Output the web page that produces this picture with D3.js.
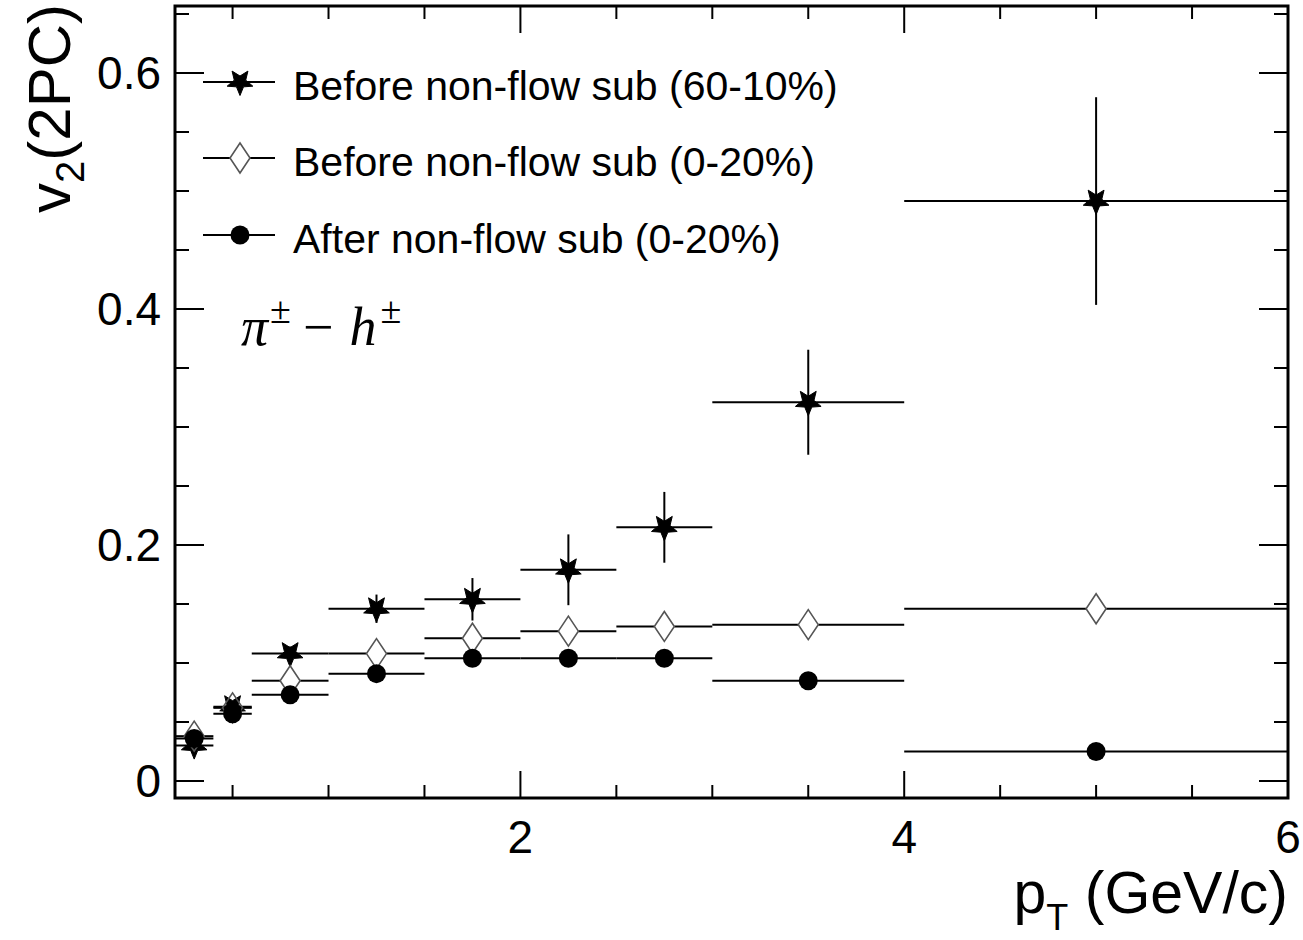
<!DOCTYPE html>
<html>
<head>
<meta charset="utf-8">
<script src="https://cdn.jsdelivr.net/npm/d3@7"></script>
<style>
  html, body { margin: 0; padding: 0; background: #fff; }
  svg { display: block; }
  text { font-family: "Liberation Sans", Arial, Helvetica, sans-serif; fill: #000; }
</style>
</head>
<body>
<svg id="chart" width="1303" height="940"></svg>
<script>
// pT bins (GeV/c)
const pTCenter = [0.3, 0.5, 0.8, 1.25, 1.75, 2.25, 2.75, 3.5, 5.0];
const pTLow    = [0.2, 0.4, 0.6, 1.0, 1.5, 2.0, 2.5, 3.0, 4.0];
const pTHigh   = [0.4, 0.6, 1.0, 1.5, 2.0, 2.5, 3.0, 4.0, 6.0];

// v2(2PC), before non-flow subtraction, 60-10%
const v2Before6010    = [0.030, 0.063, 0.108, 0.146, 0.154, 0.179, 0.215, 0.321, 0.4915];
const v2Before6010Err = [0.004, 0.005, 0.006, 0.012, 0.018, 0.030, 0.030, 0.0445, 0.088];
// v2(2PC), before non-flow subtraction, 0-20%
const v2Before020 = [0.038, 0.062, 0.085, 0.108, 0.121, 0.127, 0.131, 0.1325, 0.146];
// v2(2PC), after non-flow subtraction, 0-20%
const v2After020  = [0.036, 0.057, 0.073, 0.091, 0.104, 0.104, 0.104, 0.085, 0.025];

// axis ticks
const yMajorTicks = [0, 0.2, 0.4, 0.6];
const yMinorTicks = [0.05, 0.1, 0.15, 0.25, 0.3, 0.35, 0.45, 0.5, 0.55, 0.65];
const xMajorTicks = [2, 4, 6];
const xMinorTicks = [0.5, 1, 1.5, 2.5, 3, 3.5, 4.5, 5, 5.5];

const legendLabels = [
  "Before non-flow sub (60-10%)",
  "Before non-flow sub (0-20%)",
  "After non-flow sub (0-20%)"
];

const svg = d3.select("#chart");
const L = 175, R = 1288, T = 6, B = 798;

const x = d3.scaleLinear().domain([0.2, 6]).range([L, R]);
const y = d3.scaleLinear().domain([-0.0144, 0.6568]).range([B, T]);

// ---- ticks (mirrored on all four sides) ----
const tk = svg.append("g").attr("stroke", "#000").attr("stroke-width", 2);
const majLenY = 29, minLenY = 14, majLenX = 27, minLenX = 13;
yMajorTicks.forEach(v => {
  tk.append("line").attr("x1", L).attr("x2", L + majLenY).attr("y1", y(v)).attr("y2", y(v));
  tk.append("line").attr("x1", R).attr("x2", R - majLenY).attr("y1", y(v)).attr("y2", y(v));
});
yMinorTicks.forEach(v => {
  tk.append("line").attr("x1", L).attr("x2", L + minLenY).attr("y1", y(v)).attr("y2", y(v));
  tk.append("line").attr("x1", R).attr("x2", R - minLenY).attr("y1", y(v)).attr("y2", y(v));
});
xMajorTicks.forEach(v => {
  tk.append("line").attr("x1", x(v)).attr("x2", x(v)).attr("y1", B).attr("y2", B - majLenX);
  tk.append("line").attr("x1", x(v)).attr("x2", x(v)).attr("y1", T).attr("y2", T + majLenX);
});
xMinorTicks.forEach(v => {
  tk.append("line").attr("x1", x(v)).attr("x2", x(v)).attr("y1", B).attr("y2", B - minLenX);
  tk.append("line").attr("x1", x(v)).attr("x2", x(v)).attr("y1", T).attr("y2", T + minLenX);
});

// ---- tick labels ----
svg.append("g").selectAll("text").data(yMajorTicks).join("text")
  .attr("x", 161).attr("y", d => y(d) + 16)
  .attr("text-anchor", "end").attr("font-size", 46)
  .text(d => d === 0 ? "0" : d3.format(".1f")(d));

svg.append("g").selectAll("text").data(xMajorTicks).join("text")
  .attr("x", d => x(d)).attr("y", 853)
  .attr("text-anchor", "middle").attr("font-size", 46)
  .text(d => d);

// ---- axis titles ----
const xt = svg.append("text").attr("x", R).attr("y", 913)
  .attr("text-anchor", "end").attr("font-size", 59);
xt.append("tspan").text("p");
xt.append("tspan").attr("font-size", 36).attr("dy", 17).text("T");
xt.append("tspan").attr("dy", -17).text(" (GeV/c)");

const yt = svg.append("text")
  .attr("transform", "translate(70,4) rotate(-90)")
  .attr("text-anchor", "end").attr("font-size", 60);
yt.append("tspan").text("v");
yt.append("tspan").attr("font-size", 40).attr("dy", 14).text("2");
yt.append("tspan").attr("dy", -14).text("(2PC)");

// ---- markers ----
function starPath(R0, r0) {
  // five-pointed star with one point facing down
  const pts = [];
  for (let i = 0; i < 10; i++) {
    const a = Math.PI / 2 + i * Math.PI / 5;
    const rr = i % 2 === 0 ? R0 : r0;
    pts.push([rr * Math.cos(a), rr * Math.sin(a)]);
  }
  return "M" + pts.map(p => p.join(",")).join("L") + "Z";
}
const STAR = starPath(13.5, 6);
const DIAMOND = "M0,-15L10,0L0,15L-10,0Z";
const CIRCLE_R = 9.5;

function drawStar(g, cx, cy) {
  g.append("path").attr("d", STAR).attr("transform", `translate(${cx},${cy})`)
    .attr("fill", "#000").attr("stroke", "#000").attr("stroke-width", 1);
}
function drawDiamond(g, cx, cy) {
  g.append("path").attr("d", DIAMOND).attr("transform", `translate(${cx},${cy})`)
    .attr("fill", "none").attr("stroke", "#555").attr("stroke-width", 1.6);
}
function drawCircle(g, cx, cy) {
  g.append("circle").attr("cx", cx).attr("cy", cy).attr("r", CIRCLE_R).attr("fill", "#000");
}

const plot = svg.append("g");

// 60-10% before subtraction: stars with vertical stat. errors
pTCenter.forEach((c, i) => {
  const cy = y(v2Before6010[i]);
  plot.append("line").attr("x1", x(pTLow[i])).attr("x2", x(pTHigh[i]))
    .attr("y1", cy).attr("y2", cy).attr("stroke", "#000").attr("stroke-width", 2);
  plot.append("line").attr("x1", x(c)).attr("x2", x(c))
    .attr("y1", y(v2Before6010[i] - v2Before6010Err[i]))
    .attr("y2", y(v2Before6010[i] + v2Before6010Err[i]))
    .attr("stroke", "#000").attr("stroke-width", 2);
  drawStar(plot, x(c), cy);
});

// 0-20% before subtraction: open diamonds, bin lines stop at the marker
pTCenter.forEach((c, i) => {
  const cy = y(v2Before020[i]);
  const cx = x(c);
  plot.append("line").attr("x1", x(pTLow[i])).attr("x2", cx - 10)
    .attr("y1", cy).attr("y2", cy).attr("stroke", "#000").attr("stroke-width", 2);
  plot.append("line").attr("x1", cx + 10).attr("x2", x(pTHigh[i]))
    .attr("y1", cy).attr("y2", cy).attr("stroke", "#000").attr("stroke-width", 2);
  drawDiamond(plot, cx, cy);
});

// 0-20% after subtraction: full circles
pTCenter.forEach((c, i) => {
  const cy = y(v2After020[i]);
  plot.append("line").attr("x1", x(pTLow[i])).attr("x2", x(pTHigh[i]))
    .attr("y1", cy).attr("y2", cy).attr("stroke", "#000").attr("stroke-width", 2);
  drawCircle(plot, x(c), cy);
});

// ---- frame ----
svg.append("rect").attr("x", L).attr("y", T).attr("width", R - L).attr("height", B - T)
  .attr("fill", "none").attr("stroke", "#000").attr("stroke-width", 3);

// ---- legend ----
const leg = svg.append("g");
const legY = [82, 158, 235];
const legMarkers = [drawStar, drawDiamond, drawCircle];
legY.forEach((ly, i) => {
  if (i === 1) {
    leg.append("line").attr("x1", 203).attr("x2", 230).attr("y1", ly).attr("y2", ly)
      .attr("stroke", "#000").attr("stroke-width", 2);
    leg.append("line").attr("x1", 250).attr("x2", 275).attr("y1", ly).attr("y2", ly)
      .attr("stroke", "#000").attr("stroke-width", 2);
  } else {
    leg.append("line").attr("x1", 203).attr("x2", 275).attr("y1", ly).attr("y2", ly)
      .attr("stroke", "#000").attr("stroke-width", 2);
  }
  legMarkers[i](leg, 240, ly);
  leg.append("text").attr("x", 293).attr("y", ly + 18)
    .attr("font-size", 41).text(legendLabels[i]);
});

// ---- process label ----
const pl = svg.append("text").attr("x", 241).attr("y", 345)
  .attr("font-size", 54).attr("font-style", "italic")
  .style("font-family", '"Liberation Serif", "Times New Roman", serif');
pl.append("tspan").text("π");
pl.append("tspan").attr("font-size", 38).attr("font-style", "normal").attr("dy", -22).attr("dx", 2).text("±");
pl.append("tspan").attr("dy", 22).attr("dx", 12).attr("font-style", "normal").text("−");
pl.append("tspan").attr("dx", 16).text("h");
pl.append("tspan").attr("font-size", 38).attr("font-style", "normal").attr("dy", -22).attr("dx", 4).text("±");
</script>
</body>
</html>
